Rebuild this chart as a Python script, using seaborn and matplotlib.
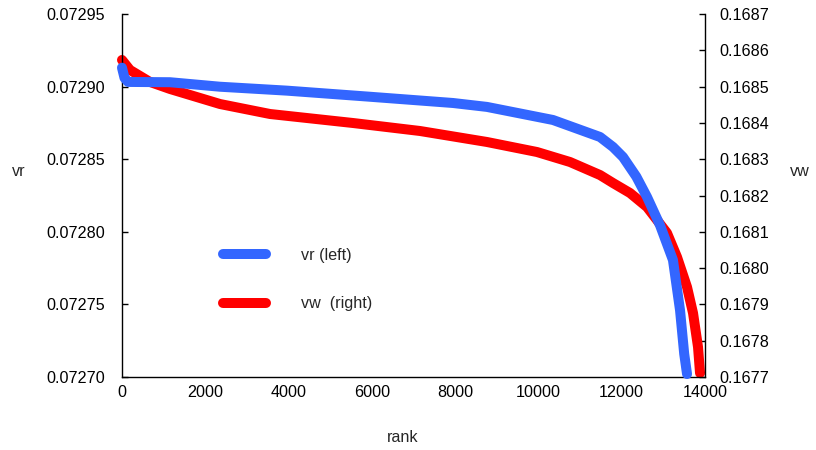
import matplotlib
matplotlib.use('Agg')
import pandas as pd
import seaborn as sns
import matplotlib.pyplot as plt

# vr (left axis)
rank_vr = [0, 60, 144, 1153, 2353, 3962, 5955, 7949, 8765, 10350, 11479,
           11791, 12031, 12350, 12607, 12920, 13230, 13400, 13500, 13568]
vr = [0.072913, 0.072906, 0.0729032, 0.072903, 0.0728999, 0.0728972, 0.072893,
      0.0728887, 0.072886, 0.072877, 0.0728653, 0.0728584, 0.0728515,
      0.072838, 0.072824, 0.0728045, 0.0727806, 0.072746, 0.072716, 0.0727021]

# vw (right axis)
rank_vw = [0, 192, 672, 1153, 2353, 3554, 5547, 7156, 8765, 9966, 10758, 11479,
           11791, 12199, 12607, 12847, 13087, 13328, 13568, 13712, 13832, 13880]
vw = [0.1685733, 0.1685457, 0.1685127, 0.1684934, 0.168452, 0.1684245, 0.1683997,
      0.1683777, 0.1683474, 0.1683198, 0.1682923, 0.1682564, 0.1682344, 0.1682069,
      0.1681683, 0.1681325, 0.1680967, 0.1680305, 0.1679479, 0.1678763,
      0.1677826, 0.167711]

xticks = [0, 2000, 4000, 6000, 8000, 10000, 12000, 14000]
vr_ticks = [0.07270, 0.07275, 0.07280, 0.07285, 0.07290, 0.07295]
vw_ticks = [0.1677, 0.1678, 0.1679, 0.1680, 0.1681, 0.1682, 0.1683, 0.1684,
            0.1685, 0.1686, 0.1687]

df_vr = pd.DataFrame({'rank': rank_vr, 'vr': vr})
df_vw = pd.DataFrame({'rank': rank_vw, 'vw': vw})

FS = 11.6

sns.set_style('white')
plt.rcParams['font.family'] = ['Liberation Sans', 'DejaVu Sans']
plt.rcParams['font.size'] = FS

fig = plt.figure(figsize=(8.16, 4.5), dpi=100)
ax = fig.add_axes([0.1495, 0.162, 0.7145, 0.807])
ax2 = ax.twinx()

blue = '#3366ff'
red = '#ff0000'

sns.lineplot(data=df_vr, x='rank', y='vr', ax=ax, color=blue, lw=7.2,
             sort=False, estimator=None, legend=False, zorder=3)
sns.lineplot(data=df_vw, x='rank', y='vw', ax=ax2, color=red, lw=7.2,
             sort=False, estimator=None, legend=False, zorder=2)
ax.set_zorder(ax2.get_zorder() + 1)
ax.patch.set_visible(False)

for ln in ax.lines + ax2.lines:
    ln.set_solid_capstyle('round')
    ln.set_solid_joinstyle('round')
    ln.set_clip_on(False)

ax.set_xlim(0, 14000)
ax.set_ylim(0.07270, 0.07295)
ax2.set_ylim(0.1677, 0.1687)
ax.set_xticks(xticks)
ax.set_xticklabels([str(t) for t in xticks])
ax.set_yticks(vr_ticks)
ax.set_yticklabels([f'{t:.5f}' for t in vr_ticks])
ax2.set_yticks(vw_ticks)
ax2.set_yticklabels([f'{t:.4f}' for t in vw_ticks])

for a in (ax, ax2):
    a.spines['top'].set_visible(False)
    for s in a.spines.values():
        s.set_color('black')
        s.set_linewidth(1)
ax.spines['right'].set_visible(False)
ax2.spines['left'].set_visible(False)
ax2.spines['bottom'].set_visible(False)

ax.tick_params(axis='y', direction='in', length=4, width=1, pad=12, labelsize=FS, colors='black')
ax.tick_params(axis='x', direction='in', length=4, width=1, pad=6, labelsize=FS, colors='black')
ax2.tick_params(axis='y', direction='in', length=4, width=1, pad=10, labelsize=FS, colors='black')

ax.set_xlabel('rank', fontsize=FS)
ax.xaxis.set_label_coords(0.482, -0.165)
ax.xaxis.label.set_va('center')
ax.set_ylabel('vr', rotation=0, fontsize=FS, ha='center', va='center')
ax.yaxis.set_label_coords(-0.1775, 0.565)
ax2.set_ylabel('vw', rotation=0, fontsize=FS, ha='center', va='center')
ax2.yaxis.set_label_coords(1.163, 0.565)

handles = [ax.lines[0], ax2.lines[0]]
ax.legend(handles, ['vr (left)', 'vw  (right)'], loc='upper left',
          bbox_to_anchor=(0.2635, 0.4673), bbox_transform=fig.transFigure,
          frameon=False, borderpad=0, handlelength=2.65, handletextpad=2.2,
          labelspacing=2.08, fontsize=FS)

fig.savefig('out.png', dpi=100)
